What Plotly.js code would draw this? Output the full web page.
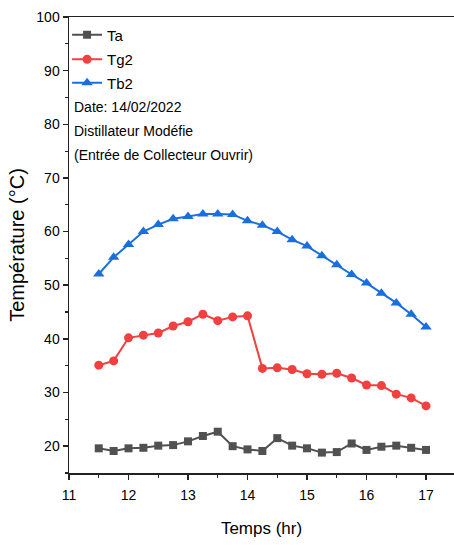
<!DOCTYPE html>
<html>
<head>
<meta charset="utf-8">
<script src="https://cdn.plot.ly/plotly-3.0.1.min.js"></script>
<style>
html,body{margin:0;padding:0;background:#fff;}
#chart{width:454px;height:547px;}
</style>
</head>
<body>
<div id="chart"></div>
<script>
const hours = [11.5,11.75,12,12.25,12.5,12.75,13,13.25,13.5,13.75,14,14.25,14.5,14.75,15,15.25,15.5,15.75,16,16.25,16.5,16.75,17];
const Ta  = [19.6,19.1,19.6,19.7,20.1,20.2,20.9,21.9,22.7,20.0,19.4,19.1,21.5,20.1,19.6,18.8,18.9,20.5,19.3,19.9,20.1,19.7,19.3];
const Tg2 = [35.1,35.9,40.2,40.7,41.1,42.4,43.2,44.6,43.4,44.1,44.3,34.5,34.6,34.3,33.5,33.4,33.6,32.7,31.4,31.3,29.7,29.0,27.5];
const Tb2 = [52.1,55.2,57.6,60.0,61.3,62.4,62.8,63.3,63.3,63.2,62.0,61.2,60.0,58.5,57.3,55.5,53.8,52.0,50.4,48.5,46.7,44.6,42.2];
const seriesNames = ['Ta','Tg2','Tb2'];
const noteLines = ['Date: 14/02/2022','Distillateur Modéfie','(Entrée de Collecteur Ouvrir)'];
const xTicks = [11,12,13,14,15,16,17];
const yTicks = [20,30,40,50,60,70,80,90,100];

const SANS = '"Liberation Sans", Arial, sans-serif';
const colors = ['#515151','#F14040','#1A6FDF'];

const traces = [
  {x: hours, y: Ta, name: seriesNames[0], mode:'lines+markers', legend:'legend',
   line:{color:colors[0], width:2}, marker:{symbol:'square', size:8, color:colors[0]}},
  {x: hours, y: Tg2, name: seriesNames[1], mode:'lines+markers', legend:'legend2',
   line:{color:colors[1], width:2}, marker:{symbol:'circle', size:9, color:colors[1]}},
  {x: hours, y: Tb2, name: seriesNames[2], mode:'lines+markers', legend:'legend3',
   line:{color:colors[2], width:2}, marker:{symbol:'triangle-up', size:10, color:colors[2]}}
];

const legBase = {x:-0.005, xanchor:'left', yanchor:'middle', bgcolor:'rgba(0,0,0,0)', borderwidth:0,
  font:{family:SANS, size:15, color:'#000'}};

const layout = {
  width:454, height:547,
  margin:{l:69, r:0, t:17, b:74},
  paper_bgcolor:'#fff', plot_bgcolor:'#fff',
  showlegend:true,
  legend:  Object.assign({}, legBase, {y:0.9605}),
  legend2: Object.assign({}, legBase, {y:0.9068}),
  legend3: Object.assign({}, legBase, {y:0.8553}),
  xaxis:{
    range:[11,17.47], tickvals:xTicks, ticktext:xTicks.map(String),
    showgrid:false, zeroline:false,
    showline:true, linecolor:'#222', linewidth:1.5, mirror:true,
    ticks:'outside', ticklen:5, tickwidth:1.5, tickcolor:'#222', ticklabelstandoff:4,
    minor:{dtick:0.5, tick0:11, ticks:'outside', ticklen:3, tickwidth:1.2, tickcolor:'#222', showgrid:false},
    tickfont:{family:SANS, size:14, color:'#000'},
    title:{text:'Temps (hr)', font:{family:SANS, size:17, color:'#000'}, standoff:20}
  },
  yaxis:{
    range:[15,100], tickvals:yTicks, ticktext:yTicks.map(String),
    showgrid:false, zeroline:false,
    showline:true, linecolor:'#222', linewidth:1.5, mirror:false,
    ticks:'outside', ticklen:5, tickwidth:1.5, tickcolor:'#222',
    minor:{dtick:5, tick0:15, ticks:'outside', ticklen:3, tickwidth:1.2, tickcolor:'#222', showgrid:false},
    tickfont:{family:SANS, size:14, color:'#000'},
    title:{text:'Température (°C)', font:{family:SANS, size:20, color:'#000'}, standoff:6}
  },
  annotations: noteLines.map((t,i)=>({
    text:t, xref:'paper', yref:'paper', x:0.008, y:[0.8026,0.75,0.6974][i],
    xanchor:'left', yanchor:'middle', showarrow:false,
    font:{family:SANS, size:14, color:'#000'}
  }))
};

Plotly.newPlot('chart', traces, layout, {staticPlot:true, displayModeBar:false});
</script>
</body>
</html>
